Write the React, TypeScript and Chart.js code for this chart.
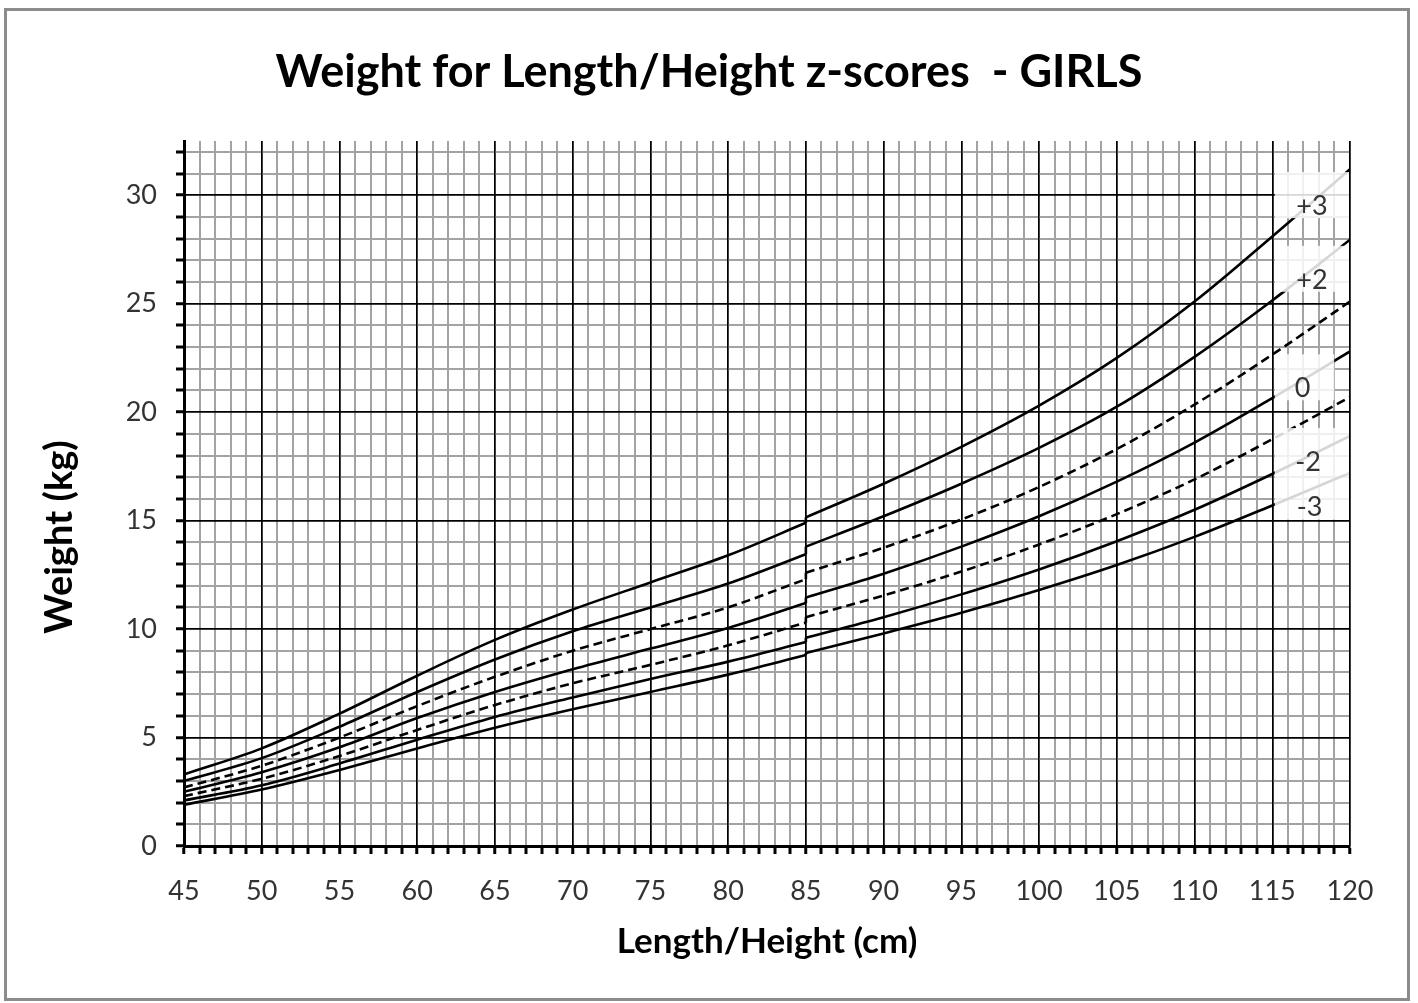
import React, { useEffect, useRef } from 'react';
import { Chart, registerables } from 'chart.js';

Chart.register(...registerables);

// Weight-for-length part (recumbent length, 45–85 cm)
const lengthCm = [45, 50, 55, 60, 65, 70, 75, 80, 85];
const wflMinus3 = [1.9, 2.6, 3.5, 4.5, 5.45, 6.3, 7.1, 7.9, 8.8];
const wflMinus2 = [2.1, 2.8, 3.8, 4.9, 5.95, 6.85, 7.7, 8.5, 9.4];
const wflMinus1 = [2.3, 3.1, 4.15, 5.35, 6.5, 7.5, 8.35, 9.25, 10.3];
const wflMedian = [2.5, 3.4, 4.55, 5.9, 7.1, 8.15, 9.1, 10.05, 11.2];
const wflPlus1 = [2.7, 3.7, 5.0, 6.45, 7.8, 9.0, 10.0, 11.0, 12.3];
const wflPlus2 = [3.0, 4.05, 5.5, 7.1, 8.6, 9.9, 11.0, 12.1, 13.45];
const wflPlus3 = [3.3, 4.5, 6.1, 7.85, 9.5, 10.9, 12.15, 13.4, 14.9];

// Weight-for-height part (standing height, 85–120 cm)
const heightCm = [85, 90, 95, 100, 105, 110, 115, 120];
const wfhMinus3 = [8.9, 9.8, 10.75, 11.8, 12.95, 14.25, 15.7, 17.2];
const wfhMinus2 = [9.6, 10.55, 11.6, 12.75, 14.05, 15.5, 17.15, 18.9];
const wfhMinus1 = [10.55, 11.55, 12.65, 13.9, 15.3, 16.9, 18.75, 20.7];
const wfhMedian = [11.45, 12.55, 13.8, 15.2, 16.8, 18.6, 20.65, 22.8];
const wfhPlus1 = [12.6, 13.75, 15.05, 16.55, 18.3, 20.35, 22.65, 25.1];
const wfhPlus2 = [13.8, 15.2, 16.7, 18.35, 20.25, 22.55, 25.15, 27.95];
const wfhPlus3 = [15.15, 16.7, 18.4, 20.3, 22.5, 25.1, 28.1, 31.2];

const zNames = ['+3', '+2', '+1', '0', '-1', '-2', '-3'];
const zDashed = [false, false, true, false, true, false, false];
const wflSeries = [wflPlus3, wflPlus2, wflPlus1, wflMedian, wflMinus1, wflMinus2, wflMinus3];
const wfhSeries = [wfhPlus3, wfhPlus2, wfhPlus1, wfhMedian, wfhMinus1, wfhMinus2, wfhMinus3];

// Curve labels shown at the right end
const curveLabelText = ['+3', '+2', '0', '-2', '-3'];

const chartTitle = 'Weight for Length/Height z-scores  - GIRLS';
const xTitle = 'Length/Height (cm)';
const yTitle = 'Weight (kg)';

const xMin = 45;
const xMax = 120;
const yMin = 0;
const yMax = 32.5;
const labelEvery = 5;

const FONT = 'Lato, "Open Sans", sans-serif';

const curveLabelPlugin = {
  id: 'curveLabels',
  afterDatasetsDraw(chart: any) {
    const { ctx, scales, chartArea } = chart;
    const x = scales.x;
    const y = scales.y;
    // label anchor positions in data units (cm, kg)
    const anchors = [
      [117.55, 29.5],
      [117.55, 26.1],
      [116.95, 21.1],
      [117.3, 17.7],
      [117.4, 15.6],
    ];
    const boxRight = [120, 120, 119.05, 120, 120];
    ctx.save();
    const left = x.getPixelForValue(115) + 2.5;
    anchors.forEach(([, cy], i) => {
      const py = y.getPixelForValue(cy);
      const right = Math.min(x.getPixelForValue(boxRight[i]) - 1, chartArea.right - 1);
      ctx.fillStyle = 'rgba(255,255,255,0.84)';
      ctx.fillRect(left, py - 34, right - left, 46);
    });
    ctx.fillStyle = '#333';
    ctx.font = `27px ${FONT}`;
    ctx.textAlign = 'center';
    ctx.textBaseline = 'middle';
    anchors.forEach(([cx, cy], i) => {
      ctx.fillText(curveLabelText[i], x.getPixelForValue(cx), y.getPixelForValue(cy));
    });
    ctx.restore();
  },
};

const majorGridPlugin = {
  id: 'majorGrid',
  beforeDatasetsDraw(chart: any) {
    const { ctx, chartArea: a, scales } = chart;
    const w = 1.5;
    const align = (p: number) => Math.round(p - w / 2) + w / 2;
    ctx.save();
    ctx.strokeStyle = '#000';
    ctx.lineWidth = w;
    ctx.beginPath();
    scales.x.ticks.forEach((t: any) => {
      if (t.value % labelEvery === 0 && t.value !== xMin) {
        const px = align(scales.x.getPixelForValue(t.value));
        ctx.moveTo(px, a.top);
        ctx.lineTo(px, a.bottom);
      }
    });
    scales.y.ticks.forEach((t: any) => {
      if (t.value % labelEvery === 0 && t.value !== yMin) {
        const py = align(scales.y.getPixelForValue(t.value));
        ctx.moveTo(a.left, py);
        ctx.lineTo(a.right, py);
      }
    });
    ctx.stroke();
    ctx.restore();
  },
};

const titlesPlugin = {
  id: 'titles',
  afterDraw(chart: any) {
    const { ctx, chartArea: a } = chart;
    ctx.save();
    ctx.fillStyle = '#000';
    ctx.textAlign = 'center';
    ctx.textBaseline = 'alphabetic';
    ctx.font = `bold 45px ${FONT}`;
    ctx.fillText(chartTitle, chart.width / 2, 87);
    ctx.font = `bold 35px ${FONT}`;
    ctx.fillText(xTitle, (a.left + a.right) / 2, 953);
    ctx.translate(72, 537);
    ctx.rotate(-Math.PI / 2);
    ctx.font = `bold 38px ${FONT}`;
    ctx.fillText(yTitle, 0, 0);
    ctx.restore();
  },
};

const gridColor = (c: any) => (c.tick && c.tick.value % labelEvery === 0 ? '#000000' : '#a3a3a3');
const gridWidth = (c: any) => (c.tick && c.tick.value % labelEvery === 0 ? 1.5 : 2);

export default function App() {
  const ref = useRef<HTMLCanvasElement>(null);

  useEffect(() => {
    document.body.style.margin = '0';
    const datasets: any[] = [];
    zNames.forEach((name, i) => {
      const wfl = wflSeries[i];
      const wfh = wfhSeries[i];
      const base = {
        borderColor: '#000',
        borderWidth: 2.6,
        borderDash: zDashed[i] ? [9, 5] : [],
        pointRadius: 0,
        fill: false,
      };
      datasets.push({
        ...base,
        label: `${name} (length)`,
        data: lengthCm.map((x, k) => ({ x, y: wfl[k] })),
        cubicInterpolationMode: 'monotone',
      });
      datasets.push({
        ...base,
        label: `${name} (step)`,
        borderDash: [],
        data: [
          { x: lengthCm[lengthCm.length - 1], y: wfl[wfl.length - 1] },
          { x: heightCm[0], y: wfh[0] },
        ],
        tension: 0,
      });
      datasets.push({
        ...base,
        label: `${name} (height)`,
        data: heightCm.map((x, k) => ({ x, y: wfh[k] })),
        cubicInterpolationMode: 'monotone',
      });
    });

    const chart = new Chart(ref.current as HTMLCanvasElement, {
      type: 'line',
      data: { datasets },
      options: {
        responsive: false,
        maintainAspectRatio: false,
        devicePixelRatio: 1,
        animation: false,
        layout: { autoPadding: false, padding: { left: 0, right: 68, top: 141, bottom: 0 } },
        plugins: {
          legend: { display: false },
          tooltip: { enabled: false },
          title: { display: false },
        },
        scales: {
          x: {
            type: 'linear',
            min: xMin,
            max: xMax,
            ticks: {
              stepSize: 1,
              autoSkip: false,
              includeBounds: false,
              maxRotation: 0,
              minRotation: 0,
              padding: 21,
              color: '#333',
              font: { family: FONT, size: 27 },
              callback: (v: any) => (v % labelEvery === 0 ? String(v) : ''),
            },
            grid: {
              color: gridColor,
              lineWidth: gridWidth,
              tickColor: '#000',
              tickWidth: 3,
              tickLength: 8,
            },
            border: { color: '#000', width: 3 },
            title: { display: false },
            afterFit: (s: any) => {
              s.height = 157;
            },
          },
          y: {
            type: 'linear',
            min: yMin,
            max: yMax,
            ticks: {
              stepSize: 1,
              autoSkip: false,
              includeBounds: false,
              padding: 19,
              color: '#333',
              font: { family: FONT, size: 27 },
              callback: (v: any) => (v % labelEvery === 0 ? String(v) : ''),
            },
            grid: {
              color: gridColor,
              lineWidth: gridWidth,
              tickColor: '#000',
              tickWidth: 3,
              tickLength: 8,
            },
            border: { color: '#000', width: 3 },
            title: { display: false },
            afterFit: (s: any) => {
              s.width = 184;
            },
          },
        },
      } as any,
      plugins: [majorGridPlugin, curveLabelPlugin, titlesPlugin],
    });
    return () => chart.destroy();
  }, []);

  return (
    <div style={{ position: 'fixed', left: 0, top: 0, width: 1418, height: 1003, background: '#fff' }}>
      <canvas
        ref={ref}
        width={1418}
        height={1003}
        style={{ position: 'absolute', left: 0, top: 0, width: 1418, height: 1003 }}
      />
      <div
        style={{
          position: 'absolute',
          left: 4,
          top: 8,
          width: 1406,
          height: 993,
          border: '3px solid #8c8c8c',
          boxSizing: 'border-box',
          pointerEvents: 'none',
        }}
      />
    </div>
  );
}
